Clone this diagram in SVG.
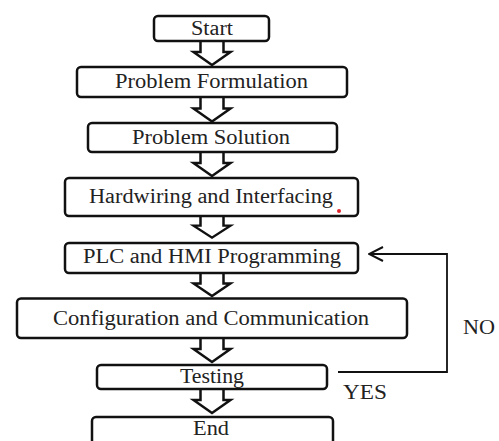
<svg xmlns="http://www.w3.org/2000/svg" width="499" height="441" viewBox="0 0 499 441">
<style>
.box{fill:#fff;stroke:#111;stroke-width:2.5}
.t{font-family:'Liberation Serif','DejaVu Serif','Times New Roman',serif;font-size:20px;fill:#222;text-anchor:middle}
.blk{fill:#fff;stroke:#111;stroke-width:2.5;stroke-linejoin:miter}
.fb{fill:none;stroke:#111;stroke-width:1.8}
</style>
<defs>
<path id="ba" d="M -11.5 0 V 11 H -18.5 L 0 24 L 18.5 11 H 11.5 V 0"/>
<marker id="open" viewBox="0 0 16 16" refX="15" refY="8" markerWidth="16" markerHeight="16" markerUnits="userSpaceOnUse" orient="auto">
<path d="M 1 1 L 15 8 L 1 15" fill="none" stroke="#111" stroke-width="2"/>
</marker>
</defs>
<rect width="499" height="441" fill="#fff"/>
<g id="connectors">
<use href="#ba" class="blk" transform="translate(212,41)"/>
<use href="#ba" class="blk" transform="translate(212,97.5)"/>
<use href="#ba" class="blk" transform="translate(212,152)"/>
<use href="#ba" class="blk" transform="translate(212,215.5) scale(1,0.92)"/>
<use href="#ba" class="blk" transform="translate(212,273) scale(1,0.96)"/>
<use href="#ba" class="blk" transform="translate(212,338)"/>
<use href="#ba" class="blk" transform="translate(212,389)"/>
<path class="fb" d="M 338 372 H 447 V 254 H 369" marker-end="url(#open)"/>
</g>
<g id="start"><rect class="box" x="154" y="16" width="115" height="25" rx="4"/><text class="t" x="212" y="35" textLength="42" lengthAdjust="spacingAndGlyphs">Start</text></g>
<g id="formulation"><rect class="box" x="77" y="67" width="270" height="30" rx="4"/><text class="t" x="211.5" y="88" textLength="193" lengthAdjust="spacingAndGlyphs">Problem Formulation</text></g>
<g id="solution"><rect class="box" x="88" y="123" width="249" height="29" rx="4"/><text class="t" x="211" y="144" textLength="158" lengthAdjust="spacingAndGlyphs">Problem Solution</text></g>
<g id="hardwiring"><rect class="box" x="65" y="178" width="293" height="38" rx="4"/><text class="t" x="211" y="203" textLength="244" lengthAdjust="spacingAndGlyphs">Hardwiring and Interfacing</text><circle cx="339" cy="211" r="2" fill="#e0242c"/></g>
<g id="plc"><rect class="box" x="65" y="243" width="293" height="30" rx="4"/><text class="t" x="212" y="263" textLength="258" lengthAdjust="spacingAndGlyphs">PLC and HMI Programming</text></g>
<g id="config"><rect class="box" x="17" y="298.5" width="390" height="39.5" rx="4"/><text class="t" x="211" y="325" textLength="316" lengthAdjust="spacingAndGlyphs">Configuration and Communication</text></g>
<g id="testing"><rect class="box" x="97" y="365" width="230" height="24" rx="4"/><text class="t" x="212" y="383" textLength="64" lengthAdjust="spacingAndGlyphs">Testing</text></g>
<g id="end"><rect class="box" x="92" y="417" width="241" height="40" rx="4"/><text class="t" x="211" y="435" textLength="36" lengthAdjust="spacingAndGlyphs">End</text></g>
<text class="t" x="479" y="334" textLength="32" lengthAdjust="spacingAndGlyphs">NO</text>
<text class="t" x="365" y="399" textLength="44" lengthAdjust="spacingAndGlyphs">YES</text>
</svg>
